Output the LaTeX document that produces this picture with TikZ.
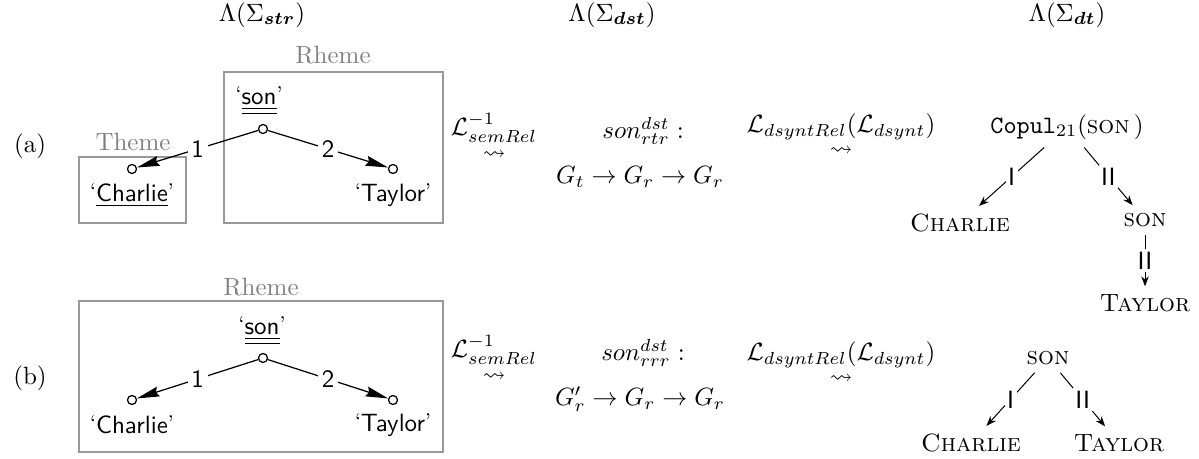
\documentclass[tikz,border=0pt]{standalone}
\usepackage{amsmath,amssymb,bm}
\usetikzlibrary{arrows.meta}
\newcommand{\semq}[1]{\raisebox{1.6pt}{\footnotesize\rmfamily\textquoteleft}#1\raisebox{1.6pt}{\footnotesize\rmfamily\textquoteright}}
\begin{document}
\begin{tikzpicture}[x=0.4pt,y=-0.4pt,
  txt/.style={inner sep=0pt, anchor=center},
  sem/.style={circle,draw,minimum size=3.6pt,inner sep=0pt,line width=0.5pt,fill=white},
  semlab/.style={font=\sffamily, inner sep=0pt},
  rel/.style={font=\sffamily, fill=white, inner sep=1.5pt},
  cbox/.style={draw=black!40, line width=0.6pt},
  boxlab/.style={text=black!50, inner sep=0pt},
  semarr/.style={-{Stealth[length=9pt,width=4pt,inset=1pt]}, line width=0.5pt},
  dnode/.style={inner sep=3pt},
  darr/.style={-{Stealth[length=4pt,width=3pt]}, line width=0.4pt},
  drel/.style={font=\sffamily, fill=white, inner sep=1pt}]
\useasboundingbox (0,0) rectangle (1199,459);

% headers
\node[txt] (h1) at (262,15) {$\Lambda(\Sigma_{\bm{str}})$};
\node[txt] (h2) at (612,15) {$\Lambda(\Sigma_{\bm{dst}})$};
\node[txt] (h3) at (1067,15) {$\Lambda(\Sigma_{\bm{dt}})$};

% row labels
\node[txt] (ra) at (30,146) {(a)};
\node[txt] (rb) at (30,378) {(b)};

% ---- row (a), left tree
\draw[cbox] (79,157) rectangle (186,223);
\node[boxlab] (theme) at (133,142) {Theme};
\draw[cbox] (224,72) rectangle (443,223);
\node[boxlab] (rheme1) at (333,55) {Rheme};
\node[sem] (s1) at (263,129) {};
\node[sem] (c1) at (132,169) {};
\node[sem] (t1) at (393,169) {};
\node[semlab] (s1l) at (259,101) {\semq{$\underline{\underline{\textsf{son}}}$}};
\node[semlab] (c1l) at (132,195) {\semq{\underline{Charlie}}};
\node[semlab] (t1l) at (393,195) {\semq{Taylor}};
\draw[semarr] (s1) -- node[rel]{1} (c1);
\draw[semarr] (s1) -- node[rel]{2} (t1);

% ---- row (b), left tree
\draw[cbox] (79,301) rectangle (443,452);
\node[boxlab] (rheme2) at (261,287) {Rheme};
\node[sem] (s2) at (263,358) {};
\node[sem] (c2) at (132,400) {};
\node[sem] (t2) at (393,400) {};
\node[semlab] (s2l) at (262,331) {\semq{$\underline{\underline{\textsf{son}}}$}};
\node[semlab] (c2l) at (132,425) {\semq{Charlie}};
\node[semlab] (t2l) at (393,425) {\semq{Taylor}};
\draw[semarr] (s2) -- node[rel]{1} (c2);
\draw[semarr] (s2) -- node[rel]{2} (t2);

% ---- middle (a)
\node[txt] (inv1) at (494,128) {$\mathcal{L}^{-1}_{semRel}$};
\node[txt] (lt1) at (494,155) {\small$\leadsto$};
\node[txt] (son1) at (643,131) {$son^{dst}_{rtr}\mathrel{:}$};
\node[txt] (g1) at (640,177) {$G_t \to G_r \to G_r$};
\node[txt] (dr1) at (841,127) {$\mathcal{L}_{dsyntRel}(\mathcal{L}_{dsynt})$};
\node[txt] (lt2) at (841,151) {\small$\leadsto$};

% ---- middle (b)
\node[txt] (inv2) at (494,350) {$\mathcal{L}^{-1}_{semRel}$};
\node[txt] (lt3) at (494,377) {\small$\leadsto$};
\node[txt] (son2) at (643,353) {$son^{dst}_{rrr}\mathrel{:}$};
\node[txt] (g2) at (640,399) {$G'_r \to G_r \to G_r$};
\node[txt] (dr2) at (841,355) {$\mathcal{L}_{dsyntRel}(\mathcal{L}_{dsynt})$};
\node[txt] (lt4) at (841,379) {\small$\leadsto$};

% ---- right (a)
\node[dnode] (cop) at (1067,127) {\texttt{Copul}$_{21}$(\textsc{son}\,)};
\node[dnode] (ch1) at (960,223) {\textsc{Charlie}};
\node[dnode] (so1) at (1145,220) {\textsc{son}};
\node[dnode] (ta1) at (1145,303) {\textsc{Taylor}};
\draw[darr] (cop) -- node[drel]{I} (ch1);
\draw[darr] (cop) -- node[drel]{II} (so1);
\draw[darr] (so1) -- node[drel]{II} (ta1);

% ---- right (b)
\node[dnode] (so2) at (1048,358) {\textsc{son}};
\node[dnode] (ch2) at (971,443) {\textsc{Charlie}};
\node[dnode] (ta2) at (1119,443) {\textsc{Taylor}};
\draw[darr] (so2) -- node[drel]{I} (ch2);
\draw[darr] (so2) -- node[drel]{II} (ta2);
\end{tikzpicture}
\end{document}
